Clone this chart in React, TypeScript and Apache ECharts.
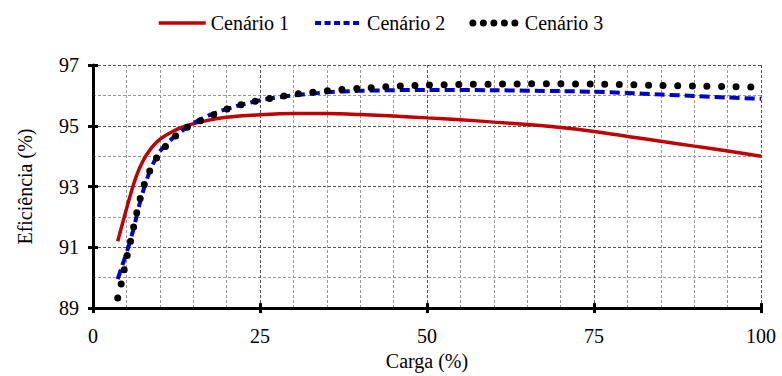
import React, { useEffect, useRef } from "react";
import * as echarts from "echarts";

const legendNames = ["Cenário 1", "Cenário 2", "Cenário 3"];
const xTicks = [0, 25, 50, 75, 100];
const yTicks = [89, 91, 93, 95, 97];

const c1X = [3.7, 4.5, 5.5, 6.5, 7.5, 8.5, 10, 12, 14, 17, 20, 25, 30, 35, 40, 45, 50, 55, 60, 65, 70, 75, 80, 85, 90, 95, 100];
const c1Y = [91.2, 91.85, 92.65, 93.35, 93.85, 94.2, 94.55, 94.82, 95.0, 95.17, 95.28, 95.36, 95.4, 95.4, 95.37, 95.32, 95.26, 95.2, 95.12, 95.04, 94.94, 94.81, 94.65, 94.49, 94.33, 94.17, 94.0];

const c2X = [3.7, 4.3, 5, 6, 7, 8, 9, 10, 11, 12.5, 15, 18, 22, 26, 30, 35, 40, 50, 60, 70, 75, 80, 85, 90, 95, 100];
const c2Y = [89.95, 90.35, 90.8, 91.55, 92.45, 93.2, 93.75, 94.15, 94.4, 94.7, 95.08, 95.4, 95.68, 95.88, 96.0, 96.1, 96.15, 96.18, 96.17, 96.14, 96.12, 96.08, 96.03, 95.98, 95.93, 95.89];

const c3X = [3.7, 4.2, 4.65, 5.1, 5.6, 6.05, 6.5, 7.0, 7.6, 8.4, 9.4, 10.7, 12.2, 13.9, 15.9, 17.9, 19.9, 21.9, 24, 26.2, 28.3, 30.5, 32.7, 35, 37, 40, 45, 50, 55, 60, 65, 70, 75, 80, 85, 90, 95, 100];
const c3Y = [89.33, 89.78, 90.25, 90.71, 91.18, 91.64, 92.09, 92.55, 93.02, 93.47, 93.9, 94.28, 94.63, 94.92, 95.15, 95.35, 95.54, 95.68, 95.79, 95.89, 95.97, 96.05, 96.1, 96.15, 96.19, 96.23, 96.3, 96.34, 96.36, 96.37, 96.38, 96.38, 96.37, 96.35, 96.33, 96.31, 96.29, 96.27];

const FONT = "Liberation Serif, Times New Roman, serif";

function pairs(xs: number[], ys: number[]) {
  return xs.map((x, i) => [x, ys[i]]);
}

export default function App() {
  const ref = useRef<HTMLDivElement>(null);
  useEffect(() => {
    document.body.style.margin = "0";
    if (!ref.current) return;
    const chart = echarts.init(ref.current, null, { renderer: "svg" });
    const text = { fontFamily: FONT, fontSize: 20, color: "#000" };
    const majorSplit = { show: true, lineStyle: { color: "#555", type: [3, 2] as any, width: 1 } };
    const minorSplit = { show: true, lineStyle: { color: "#999", type: [3, 2] as any, width: 1 } };
    chart.setOption({
      animation: false,
      backgroundColor: "#fff",
      textStyle: { fontFamily: FONT },
      legend: {
        top: 8,
        left: 152,
        itemWidth: 47,
        itemHeight: 14,
        itemGap: 24,
        textStyle: text,
        itemStyle: { opacity: 0 },
        data: [
          { name: legendNames[0], lineStyle: { width: 3.5, color: "#C00000" } },
          { name: legendNames[1], lineStyle: { width: 4, color: "#0000CC", type: [6, 3.5] } },
          { name: legendNames[2], lineStyle: { width: 7, color: "#000", type: [0, 10.5], cap: "round" } },
        ],
      },
      grid: { left: 93, right: 21, top: 65, bottom: 66, containLabel: false },
      xAxis: [
        {
          type: "value",
          min: 0,
          max: 100,
          interval: 25,
          name: "Carga (%)",
          nameLocation: "middle",
          nameGap: 42,
          nameTextStyle: text,
          axisLine: { show: true, onZero: false, lineStyle: { color: "#000", width: 3 } },
          axisTick: { show: true, length: 5, lineStyle: { color: "#000", width: 3 } },
          axisLabel: { ...text, margin: 18, formatter: (v: number) => (xTicks.includes(v) ? String(v) : "") },
          splitLine: majorSplit,
          minorTick: { show: false, splitNumber: 5 },
          minorSplitLine: minorSplit,
        },
        {
          type: "value",
          position: "bottom",
          min: 0,
          max: 100,
          interval: 25,
          axisLine: { show: false },
          axisTick: { show: true, inside: true, length: 5, lineStyle: { color: "#000", width: 3 } },
          axisLabel: { show: false },
          splitLine: { show: false },
        },
      ],
      yAxis: [
        {
          type: "value",
          min: 89,
          max: 97,
          interval: 2,
          name: "Eficiência (%)",
          nameLocation: "middle",
          nameGap: 58,
          nameTextStyle: text,
          axisLine: { show: true, onZero: false, lineStyle: { color: "#000", width: 3 } },
          axisTick: { show: true, length: 5, lineStyle: { color: "#000", width: 3 } },
          axisLabel: { ...text, margin: 14, formatter: (v: number) => (yTicks.includes(v) ? String(v) : "") },
          splitLine: majorSplit,
          minorTick: { show: false, splitNumber: 2 },
          minorSplitLine: minorSplit,
        },
        {
          type: "value",
          position: "left",
          min: 89,
          max: 97,
          interval: 2,
          axisLine: { show: false },
          axisTick: { show: true, inside: true, length: 5, lineStyle: { color: "#000", width: 3 } },
          axisLabel: { show: false },
          splitLine: { show: false },
        },
      ],
      series: [
        {
          name: legendNames[0],
          type: "line",
          data: pairs(c1X, c1Y),
          smooth: 0.3,
          symbol: "none",
          color: "#C00000",
          lineStyle: { color: "#C00000", width: 3.5 },
          z: 3,
        },
        {
          name: legendNames[1],
          type: "line",
          data: pairs(c2X, c2Y),
          smooth: 0.3,
          symbol: "none",
          color: "#0000CC",
          lineStyle: { color: "#0000CC", width: 4, type: [10, 5] },
          z: 4,
        },
        {
          name: legendNames[2],
          type: "line",
          data: pairs(c3X, c3Y),
          smooth: 0.3,
          symbol: "none",
          color: "#000",
          lineStyle: { color: "#000", width: 7, type: [0, 14.6], cap: "round" },
          z: 5,
        },
      ],
    });
    return () => chart.dispose();
  }, []);
  return <div ref={ref} style={{ width: 782, height: 376 }} />;
}
